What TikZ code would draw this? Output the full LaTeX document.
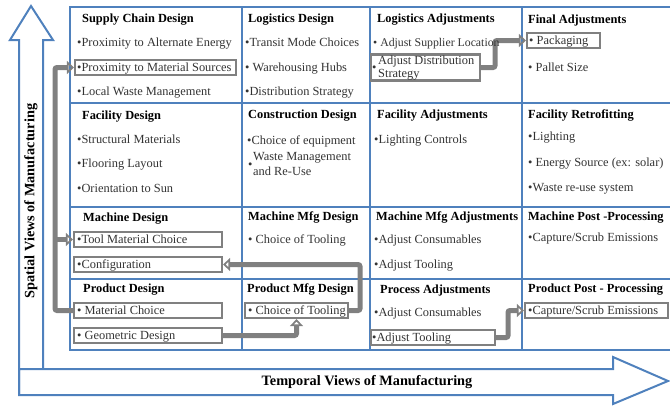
\documentclass[tikz,border=0pt]{standalone}
\usepackage{fontspec}
\setmainfont{Liberation Serif}
\usetikzlibrary{arrows.meta}
\definecolor{gridblue}{HTML}{4F81BD}
\definecolor{boxgray}{HTML}{808080}
\definecolor{txt}{HTML}{333333}
\newcommand\fsz{\fontsize{12.4}{13}\selectfont}
\newcommand\fszs{\fontsize{11.8}{13}\selectfont}
\newcommand\flz{\fontsize{14.3}{15}\selectfont}
\begin{document}
\begin{tikzpicture}[x=1pt,y=-1pt,
  title/.style={anchor=base west, inner sep=0pt, font=\fsz\bfseries, text=black},
  item/.style={anchor=base west, inner sep=0pt, font=\fsz, text=txt},
  gbox/.style={draw=boxgray, line width=2.2pt, inner sep=0pt, minimum height=15pt},
  conn/.style={draw=boxgray, line width=5pt, rounded corners=2pt, -{Triangle[open, length=7pt, width=13pt, line width=2pt]}},
  bigarrow/.style={draw=gridblue, line width=2pt, line join=miter},
  gridline/.style={draw=gridblue, line width=2pt},
  axislabel/.style={font=\flz\bfseries, text=black, inner sep=0pt}]
\useasboundingbox (0,0) rectangle (670,407);

% big arrows
\draw[bigarrow] (19,395) -- (19,40) -- (10,40) -- (31,6) -- (53,40) -- (43,40) -- (43,369);
\draw[bigarrow] (19,369) -- (613,369) -- (613,357) -- (668,381) -- (613,404) -- (613,395) -- (19,395) -- cycle;
\node[axislabel, rotate=90] (sv) at (31,201) {Spatial Views of Manufacturing};
\node[axislabel] (tv) at (367,382) {Temporal Views of Manufacturing};

% grid
\draw[gridline] (670,7) -- (70,7) -- (70,350) -- (670,350);
\foreach \yy in {103,207,279} \draw[gridline] (70,\yy) -- (670,\yy);
\foreach \xx in {242,370,522} \draw[gridline] (\xx,7) -- (\xx,350);

% boxes
\node[gbox, minimum width=161pt] (pbox) at (155.5,67.5) {};
\node[gbox, minimum width=148pt] (tbox) at (148,239.5) {};
\node[gbox, minimum width=148pt] (cfbox) at (148,264.5) {};
\node[gbox, minimum width=148pt] (mcbox) at (148,310.5) {};
\node[gbox, minimum width=148pt] (gdbox) at (148,335.5) {};
\node[gbox, minimum width=103pt] (pmbox) at (296.5,310.5) {};
\node[gbox, minimum width=109pt, minimum height=26pt] (ldbox) at (425.5,67.5) {};
\node[gbox, minimum width=73pt] (pkbox) at (563.5,40.5) {};
\node[gbox, minimum width=124pt] (atbox) at (433,337.5) {};
\node[gbox, minimum width=143pt] (csbox) at (596.5,310.5) {};

% connector helper coordinates
\coordinate (lx) at (55,0);
\coordinate (rx) at (360,0);
\coordinate (mx4) at (495,0);
\coordinate (mx5) at (508,0);

% connectors
\draw[conn] (mcbox.west) -| (lx |- pbox.west) -- (pbox.west);
\draw[conn] (lx |- tbox.west) -- (tbox.west);
\draw[conn] (pmbox.east) -| (rx |- cfbox.east) -- (cfbox.east);
\draw[conn] (gdbox.east) -| (pmbox.south);
\draw[conn] (ldbox.east) -| (mx4 |- pkbox.west) -- (pkbox.west);
\draw[conn] (atbox.east) -| (mx5 |- csbox.west) -- (csbox.west);

% column 1
\node[title] (t11) at (82,22) {Supply Chain Design};
\node[item] (i111) at (77,46) {•Proximity to Alternate Energy};
\node[item] (i112) at (77,71.5) {•Proximity to Material Sources};
\node[item] (i113) at (77,95) {•Local Waste Management};
\node[title] (t12) at (82,119) {Facility Design};
\node[item] (i121) at (77,143) {•Structural Materials};
\node[item] (i122) at (77,167) {•Flooring Layout};
\node[item] (i123) at (77,192) {•Orientation to Sun};
\node[title] (t13) at (83,221) {Machine Design};
\node[item] (i131) at (77,243.5) {•Tool Material Choice};
\node[item] (i132) at (77,268.5) {•Configuration};
\node[title] (t14) at (83,292) {Product Design};
\node[item] (i141) at (77,314.5) {• Material Choice};
\node[item] (i142) at (77,339.5) {• Geometric Design};

% column 2
\node[title] (t21) at (248,22) {Logistics Design};
\node[item] (i211) at (245,46) {•Transit Mode Choices};
\node[item] (i212) at (245,71) {• Warehousing Hubs};
\node[item] (i213) at (245,95) {•Distribution Strategy};
\node[title] (t22) at (248,118) {Construction Design};
\node[item] (i221) at (247,144) {•Choice of equipment};
\node[item] (i222b) at (248,168) {•};
\node[item] (i222) at (253,160) {Waste Management};
\node[item] (i223) at (253,175) {and Re-Use};
\node[title] (t23) at (248,220) {Machine Mfg Design};
\node[item] (i231) at (248,243) {• Choice of Tooling};
\node[title] (t24) at (247,292) {Product Mfg Design};
\node[item] (i241) at (248,314.5) {• Choice of Tooling};

% column 3
\node[title] (t31) at (377,22) {Logistics Adjustments};
\node[item, font=\fszs] (i311) at (373,46) {• Adjust Supplier Location};
\node[item] (i312b) at (372,71) {•};
\node[item] (i312) at (378,64.5) {Adjust Distribution};
\node[item] (i313) at (378,77) {Strategy};
\node[title] (t32) at (377,118) {Facility Adjustments};
\node[item] (i321) at (374,143) {•Lighting Controls};
\node[title] (t33) at (376,220) {Machine Mfg Adjustments};
\node[item] (i331) at (374,243) {•Adjust Consumables};
\node[item] (i332) at (374,268) {•Adjust Tooling};
\node[title] (t34) at (380,293) {Process Adjustments};
\node[item] (i341) at (374,316) {•Adjust Consumables};
\node[item] (i342) at (372,341.5) {•Adjust Tooling};

% column 4
\node[title] (t41) at (528,23) {Final Adjustments};
\node[item] (i411) at (529,44.5) {• Packaging};
\node[item] (i412) at (528,71) {• Pallet Size};
\node[title] (t42) at (528,118) {Facility Retrofitting};
\node[item] (i421) at (528,140) {•Lighting};
\node[item] (i422) at (528,166) {• Energy Source (ex: solar)};
\node[item] (i423) at (528,191) {•Waste re-use system};
\node[title] (t43) at (528,220) {Machine Post -Processing};
\node[item] (i431) at (528,241) {•Capture/Scrub Emissions};
\node[title] (t44) at (528,292) {Product Post - Processing};
\node[item] (i441) at (528,314.5) {•Capture/Scrub Emissions};
\end{tikzpicture}
\end{document}
